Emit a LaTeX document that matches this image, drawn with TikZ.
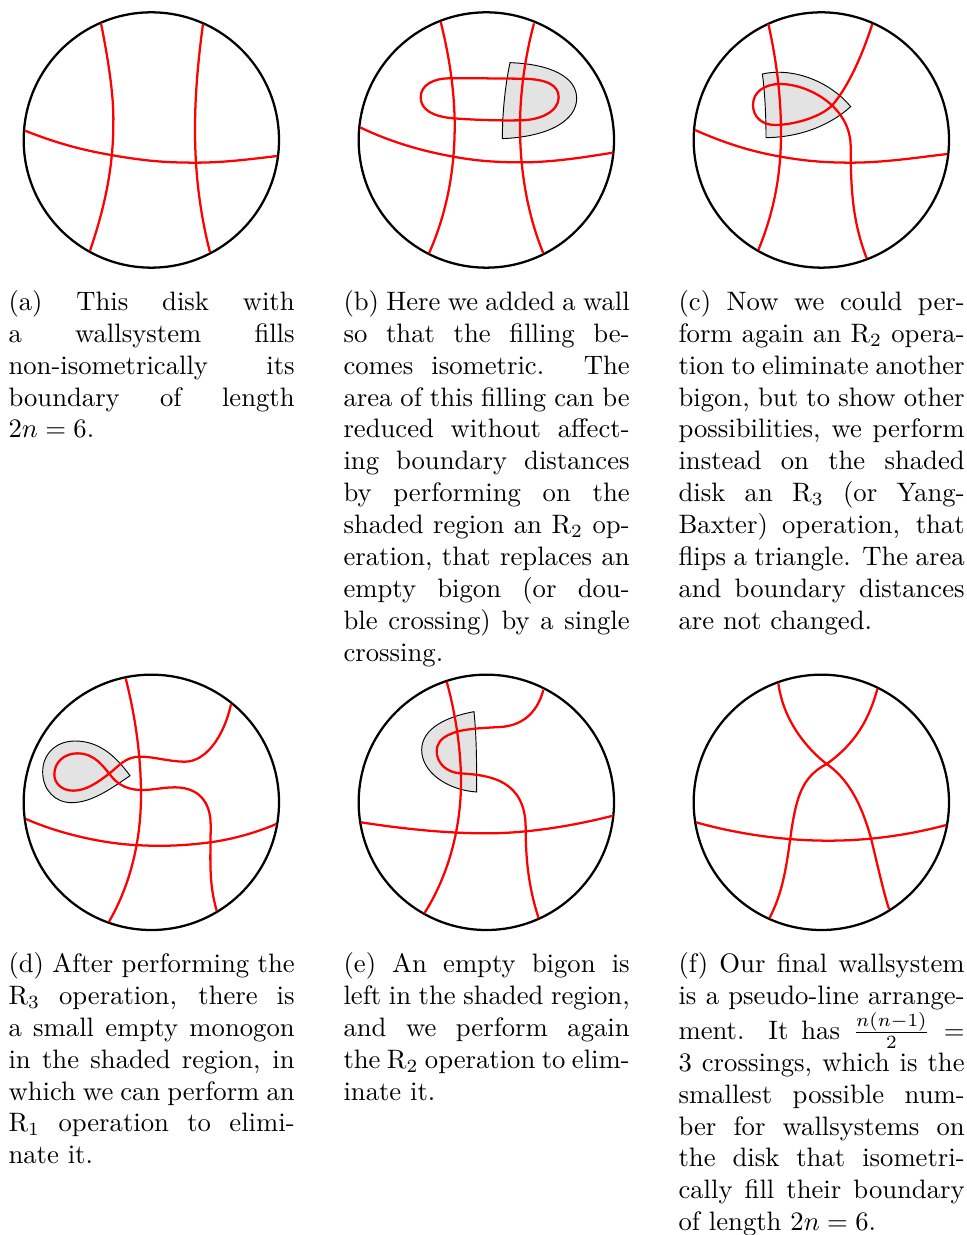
\documentclass[tikz,border=0pt]{standalone}
\usepackage{amsmath,amssymb}
\usepackage{xcolor}
\usetikzlibrary{positioning,calc}

\begin{document}
\begin{tikzpicture}[
    x=0.125pt, y=-0.125pt,
    disk/.style={draw=black, line width=0.85pt},
    wall/.style={draw=red, line width=0.85pt},
    region/.style={draw=black, fill=black!11, line width=0.35pt},
    caption/.style={anchor=north west, inner sep=0pt, text width=107.3pt, align=justify, font=\fontsize{10}{11.95}\selectfont\sloppy}
]
    \useasboundingbox (0,0) rectangle (2898,3705);

    % top row
    \begin{scope}[shift={(45,0)}]
        \draw [disk] (409,420) circle [radius=383];
        \draw [wall] (258,70) .. controls (280,180) and (297,290) .. (295,370) .. controls (295,500) and (270,620) .. (225,752);
        \draw [wall] (564,72) .. controls (548,190) and (540,290) .. (540,390) .. controls (540,520) and (555,640) .. (585,757);
        \draw [wall] (30,392) .. controls (120,428) and (200,450) .. (288,465) .. controls (390,483) and (450,488) .. (542,488) .. controls (630,488) and (710,477) .. (787,468);
    \end{scope}

    \begin{scope}[shift={(1050,0)}]
        \draw [disk] (409,420) circle [radius=383];
        \draw [region] (480,188) .. controls (600,192) and (680,230) .. (680,295)
            .. controls (680,360) and (600,410) .. (457,416)
            .. controls (457,340) and (465,260) .. cycle;
        \draw [wall] (272,65) .. controls (298,170) and (313,270) .. (314,370) .. controls (315,510) and (290,640) .. (237,760);
        \draw [wall] (552,70) .. controls (525,170) and (510,280) .. (510,380) .. controls (510,520) and (535,650) .. (580,760);
        \draw [wall] (30,382) .. controls (120,425) and (210,452) .. (310,470) .. controls (380,483) and (440,487) .. (515,487) .. controls (610,487) and (700,472) .. (789,458);
        \draw [wall] (300,235) .. controls (380,234) and (440,236) .. (520,236) .. controls (590,238) and (626,255) .. (626,292)
            .. controls (626,335) and (570,361) .. (510,361) .. controls (440,362) and (380,360) .. (310,355)
            .. controls (250,350) and (212,330) .. (212,292) .. controls (212,255) and (250,235) .. cycle;
    \end{scope}

    \begin{scope}[shift={(2055,0)}]
        \draw [disk] (409,420) circle [radius=383];
        \draw [region] (232,222) .. controls (330,200) and (440,250) .. (497,320)
            .. controls (430,380) and (340,412) .. (243,413)
            .. controls (243,350) and (240,280) .. cycle;
        \draw [wall] (250,72) .. controls (272,170) and (288,280) .. (288,400) .. controls (288,530) and (265,640) .. (220,750);
        \draw [wall] (562,72) .. controls (530,170) and (490,260) .. (440,318) .. controls (400,355) and (320,375) .. (270,375)
            .. controls (230,375) and (204,350) .. (204,315) .. controls (204,275) and (240,252) .. (285,252)
            .. controls (370,252) and (497,320) .. (497,440) .. controls (497,580) and (505,670) .. (545,775);
        \draw [wall] (30,390) .. controls (120,430) and (200,455) .. (287,470) .. controls (360,483) and (420,488) .. (497,488) .. controls (600,488) and (700,472) .. (787,462);
    \end{scope}

    % bottom row
    \begin{scope}[shift={(45,1995)}]
        \draw [disk] (409,412) circle [radius=383];
        \draw [region] (345,332) .. controls (300,270) and (250,228) .. (180,228)
            .. controls (120,228) and (83,270) .. (83,320)
            .. controls (83,375) and (120,413) .. (170,413)
            .. controls (230,413) and (290,370) .. cycle;
        \draw [wall] (332,40) .. controls (360,150) and (378,270) .. (378,390) .. controls (378,540) and (340,670) .. (282,770);
        \draw [wall] (648,118) .. controls (625,220) and (570,290) .. (510,290) .. controls (460,290) and (420,275) .. (375,275)
            .. controls (330,275) and (310,305) .. (280,328) .. controls (250,350) and (215,377) .. (175,377)
            .. controls (140,377) and (118,355) .. (118,328) .. controls (118,290) and (150,265) .. (187,265)
            .. controls (240,265) and (265,305) .. (290,335) .. controls (310,360) and (340,375) .. (380,375)
            .. controls (420,375) and (440,367) .. (480,367) .. controls (550,367) and (587,410) .. (587,480)
            .. controls (587,580) and (580,650) .. (605,737);
        \draw [wall] (33,462) .. controls (130,505) and (260,535) .. (360,540) .. controls (440,545) and (510,542) .. (585,532) .. controls (660,522) and (730,500) .. (784,477);
    \end{scope}

    \begin{scope}[shift={(1050,1995)}]
        \draw [disk] (409,412) circle [radius=383];
        \draw [region] (372,140) .. controls (290,155) and (215,190) .. (215,255)
            .. controls (215,320) and (290,375) .. (380,381)
            .. controls (380,300) and (380,220) .. cycle;
        \draw [wall] (290,50) .. controls (318,150) and (333,260) .. (333,350) .. controls (333,500) and (290,640) .. (223,745);
        \draw [wall] (580,75) .. controls (560,150) and (510,183) .. (450,186) .. controls (380,190) and (330,192) .. (295,210)
            .. controls (270,222) and (260,240) .. (260,258) .. controls (260,295) and (290,322) .. (330,325)
            .. controls (420,330) and (527,345) .. (527,490) .. controls (527,600) and (540,680) .. (566,760);
        \draw [wall] (33,472) .. controls (150,490) and (280,505) .. (410,505) .. controls (540,505) and (680,480) .. (789,452);
    \end{scope}

    \begin{scope}[shift={(2055,1995)}]
        \draw [disk] (409,412) circle [radius=383];
        \draw [wall] (280,55) .. controls (295,170) and (370,255) .. (425,297) .. controls (480,335) and (525,400) .. (558,520) .. controls (580,610) and (595,680) .. (612,732);
        \draw [wall] (577,72) .. controls (545,190) and (490,250) .. (425,297) .. controls (350,335) and (335,400) .. (320,490) .. controls (305,600) and (295,680) .. (253,760);
        \draw [wall] (33,472) .. controls (150,505) and (290,527) .. (430,527) .. controls (570,527) and (690,505) .. (784,480);
    \end{scope}

    % captions
    \node [caption] (capa) at (24,870) {(a) This disk with a wallsystem fills non-isometrically its boundary of length $2n=6$.};
    \node [caption] (capb) at (1029,870) {(b) Here we added a wall so that the filling becomes isometric. The area of this filling can be reduced without affecting boundary distances by performing on the shaded region an $\mathrm{R}_2$ operation, that replaces an empty bigon (or double crossing) by a single crossing.};
    \node [caption] (capc) at (2034,870) {(c) Now we could perform again an $\mathrm{R}_2$ operation to eliminate another bigon, but to show other possibilities, we perform instead on the shaded disk an $\mathrm{R}_3$ (or Yang-Baxter) operation, that flips a triangle. The area and boundary distances are not changed.};
    \node [caption] (capd) at (24,2856) {(d) After performing the $\mathrm{R}_3$ operation, there is a small empty monogon in the shaded region, in which we can perform an $\mathrm{R}_1$ operation to eliminate it.};
    \node [caption] (cape) at (1029,2856) {(e) An empty bigon is left in the shaded region, and we perform again the $\mathrm{R}_2$ operation to eliminate it.};
    \node [caption] (capf) at (2034,2856) {(f) Our final wallsystem is a pseudo-line arrangement. It has $\frac{n(n-1)}{2}=3$ crossings, which is the smallest possible number for wallsystems on the disk that isometrically fill their boundary of length $2n=6$.};
\end{tikzpicture}
\end{document}
